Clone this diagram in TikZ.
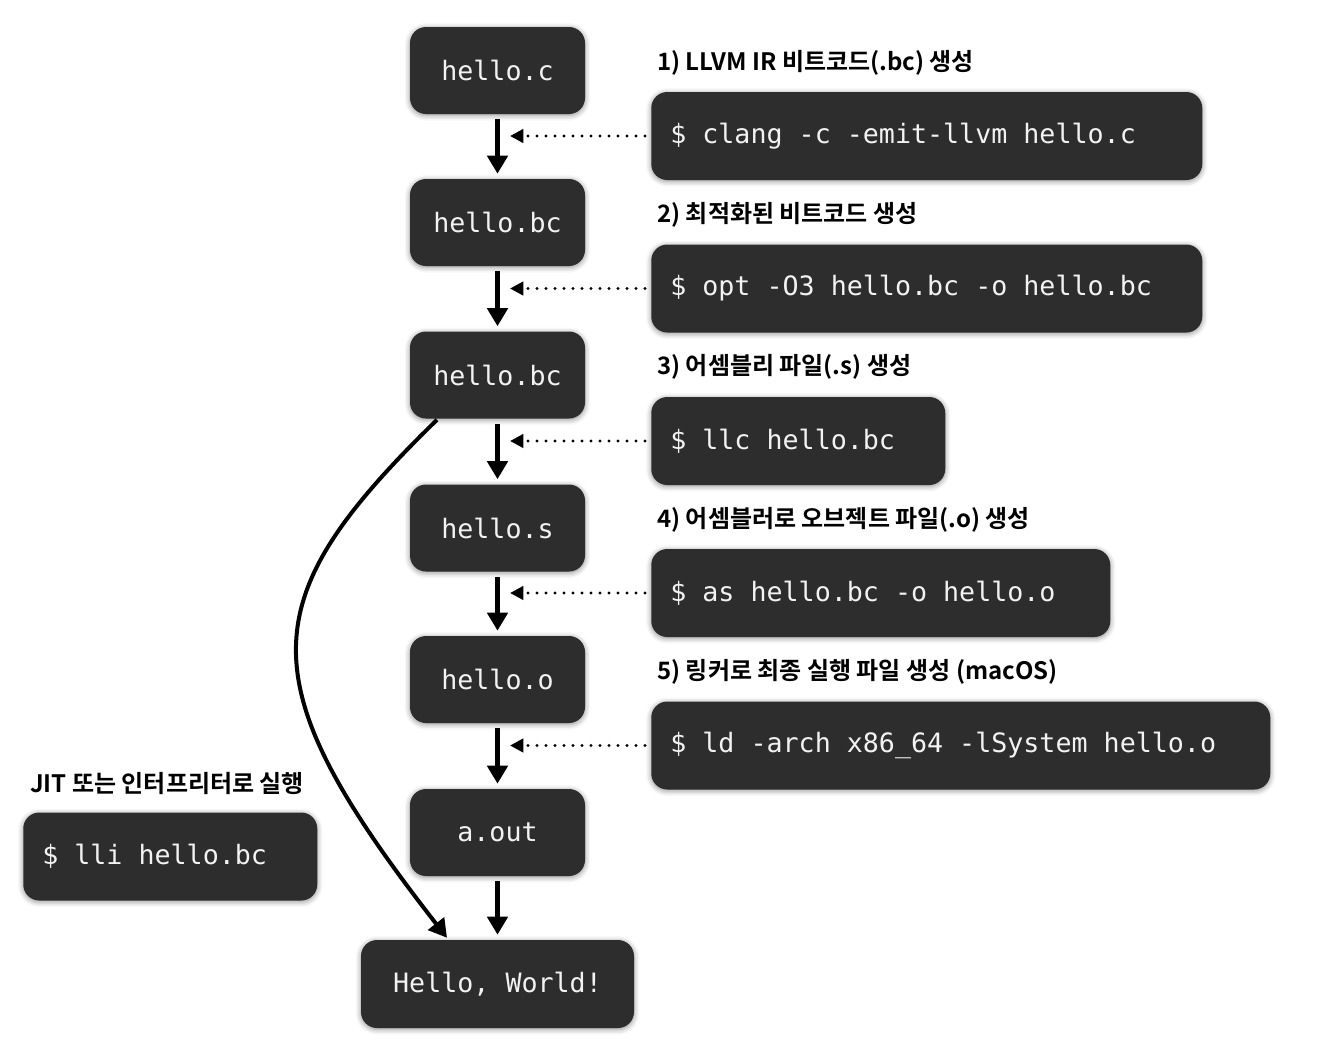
\documentclass[tikz,border=0pt]{standalone}
\usepackage{fontspec}
\newfontfamily\codefont{DejaVu Sans Mono}
\newfontfamily\krfont[BoldFont={Noto Sans CJK KR Bold}]{Noto Sans CJK KR}
\usetikzlibrary{arrows.meta,shadows.blur,calc}
\definecolor{boxfill}{HTML}{2D2D2D}
\definecolor{boxtext}{HTML}{F2F2F2}
\tikzset{
  codebox/.style={draw=none, fill=boxfill, rounded corners=12pt, text=boxtext,
    font=\codefont\fontsize{20}{24}\selectfont,
    blur shadow={shadow xshift=0pt, shadow yshift=-1pt, shadow blur radius=4pt, shadow opacity=45}},
  filebox/.style={codebox, minimum width=131.25pt, minimum height=65.25pt, inner sep=0pt},
  cmdbox/.style={codebox, anchor=west, minimum height=66pt, inner xsep=14.25pt, inner ysep=0pt,
    text width=#1-28.5pt, align=left,
    execute at begin node={\spaceskip=0pt\xspaceskip=0pt}},
  steplabel/.style={anchor=west, inner sep=0pt, font=\krfont\bfseries\fontsize{18}{21}\selectfont, text=black},
  flow/.style={line width=3.75pt, -{Triangle[length=13.5pt,width=15pt]}, shorten <=3.75pt, shorten >=3.75pt},
  feed/.style={line width=2.4pt, line cap=round, dash pattern=on 0pt off 6.75pt,
    -{Triangle[length=10pt,width=10pt]}, shorten <=4.5pt},
  jit/.style={line width=3pt, -{Triangle[length=13.5pt,width=15pt]}}
}
\begin{document}
\begin{tikzpicture}[x=0.75pt,y=-0.75pt]
\useasboundingbox (0,0) rectangle (1318,1058);

% file column
\node[filebox] (hc)  at (497.5,70.5)  {hello.c};
\node[filebox] (hb1) at (497.5,222.5) {hello.bc};
\node[filebox] (hb2) at (497.5,375)   {hello.bc};
\node[filebox] (hs)  at (497.5,528)   {hello.s};
\node[filebox] (ho)  at (497.5,679.5) {hello.o};
\node[filebox] (ao)  at (497.5,832.5) {a.out};
\node[codebox, minimum width=204.75pt, minimum height=66pt, inner sep=0pt] (hw) at (497.5,984) {Hello, World!};

% command boxes
\node[cmdbox=413.25pt] (c1) at (651,136)   {\$ clang -c -emit-llvm hello.c};
\node[cmdbox=413.25pt] (c2) at (651,288.5) {\$ opt -O3 hello.bc -o hello.bc};
\node[cmdbox=220.5pt]  (c3) at (651,441)   {\$ llc hello.bc};
\node[cmdbox=344.25pt] (c4) at (651,593)   {\$ as hello.bc -o hello.o};
\node[cmdbox=464.25pt] (c5) at (651,745.5) {\$ ld -arch x86\_64 -lSystem hello.o};
\node[cmdbox=220.5pt]  (c6) at (23,856.5)  {\$ lli hello.bc};

% labels
\node[steplabel] (l1) at (657,63)  {1) LLVM IR 비트코드(.bc) 생성};
\node[steplabel] (l2) at (657,215) {2) 최적화된 비트코드 생성};
\node[steplabel] (l3) at (657,367) {3) 어셈블리 파일(.s) 생성};
\node[steplabel] (l4) at (657,520) {4) 어셈블러로 오브젝트 파일(.o) 생성};
\node[steplabel] (l5) at (657,672) {5) 링커로 최종 실행 파일 생성 (macOS)};
\node[steplabel] (l6) at (30,783)  {JIT 또는 인터프리터로 실행};

% vertical flow
\draw[flow] (hc.south)  -- (hb1.north);
\draw[flow] (hb1.south) -- (hb2.north);
\draw[flow] (hb2.south) -- (hs.north);
\draw[flow] (hs.south)  -- (ho.north);
\draw[flow] (ho.south)  -- (ao.north);
\draw[flow] (ao.south)  -- (hw.north);

% dotted feeds
\coordinate (t1) at (510,136);
\coordinate (t2) at (510,288.5);
\coordinate (t3) at (510,441);
\coordinate (t4) at (510,593);
\coordinate (t5) at (510,745.5);
\draw[feed] (c1.west) -- (t1);
\draw[feed] (c2.west) -- (t2);
\draw[feed] (c3.west) -- (t3);
\draw[feed] (c4.west) -- (t4);
\draw[feed] (c5.west) -- (t5);

% JIT curve
\coordinate (js) at ($(hb2.south)+(-60.5,1)$);
\coordinate (je) at ($(hw.north)+(-50.5,-2)$);
\draw[jit] (js) .. controls (252,600) and (246,680) .. (je);
\end{tikzpicture}
\end{document}
